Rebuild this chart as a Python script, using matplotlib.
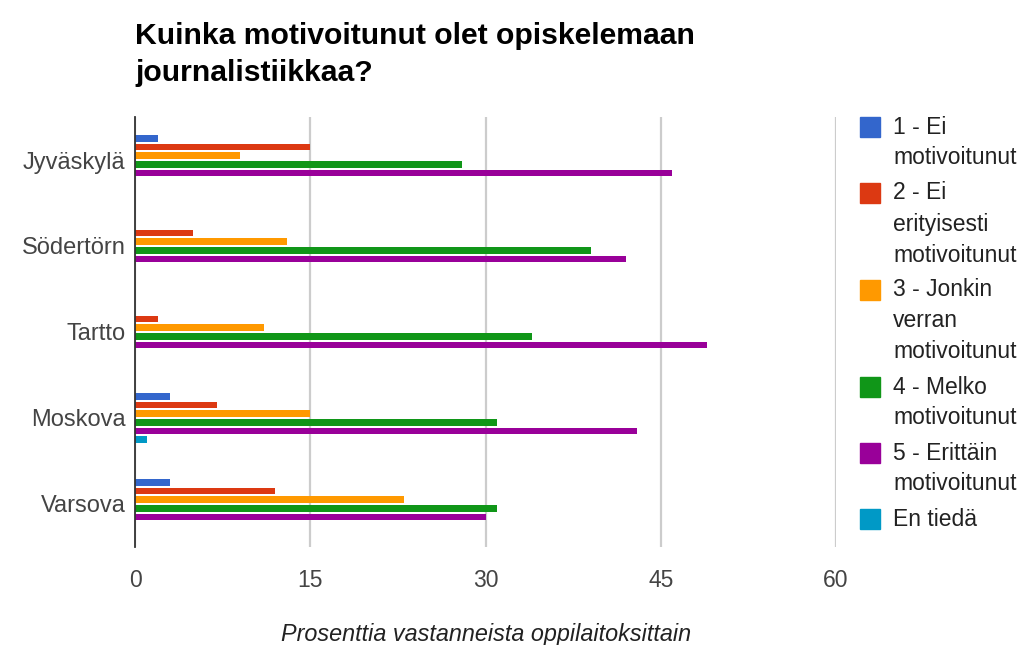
import matplotlib
matplotlib.use("Agg")
import matplotlib.pyplot as plt
import numpy as np

plt.rcParams['font.family'] = ['Liberation Sans', 'DejaVu Sans']

# data (percent of respondents per school)
schools = ["Jyväskylä", "Södertörn", "Tartto", "Moskova", "Varsova"]
series_names = ["1 - Ei\nmotivoitunut",
                "2 - Ei\nerityisesti\nmotivoitunut",
                "3 - Jonkin\nverran\nmotivoitunut",
                "4 - Melko\nmotivoitunut",
                "5 - Erittäin\nmotivoitunut",
                "En tiedä"]
s1 = [2, 0, 0, 3, 3]
s2 = [15, 5, 2, 7, 12]
s3 = [9, 13, 11, 15, 23]
s4 = [28, 39, 34, 31, 31]
s5 = [46, 42, 49, 43, 30]
s6 = [0, 0, 0, 1, 0]
colors = ["#3366cc", "#dc3912", "#ff9900", "#109618", "#990099", "#0099c6"]
xticks = [0, 15, 30, 45, 60]

fig = plt.figure(figsize=(10.24, 6.45), dpi=100)
ax = fig.add_axes([135/1024, 98/645, 701/1024, 430/645])

y = np.arange(len(schools))
pitch = 0.1
for i, vals in enumerate([s1, s2, s3, s4, s5, s6]):
    ax.barh(y + (i - 2.5) * pitch, vals, height=0.078, color=colors[i],
            edgecolor='none', zorder=3)

ax.set_xlim(0, 60)
ax.set_ylim(4.5, -0.5)
ax.set_xticks(xticks)
ax.set_xticklabels([str(t) for t in xticks])
ax.set_yticks(y)
ax.set_yticklabels(schools)
ax.tick_params(axis='both', length=0, labelsize=16.5, labelcolor='#444444')
ax.tick_params(axis='y', labelsize=17, pad=7)
ax.tick_params(axis='x', pad=16)
ax.grid(axis='x', color='#cccccc', linewidth=1.6, zorder=0)
for sp in ['top', 'right', 'bottom']:
    ax.spines[sp].set_visible(False)
ax.spines['left'].set_color('#333333')
ax.spines['left'].set_linewidth(1.3)
ax.spines['left'].set_zorder(4)

# axis title, placed by hand
fig.text(486/1024, 1 - 634/645, "Prosenttia vastanneista oppilaitoksittain",
         fontsize=16.8, style='italic', color='#222222', ha='center', va='center')

fig.text(135/1024, 1 - 22/645, "Kuinka motivoitunut olet opiskelemaan\njournalistiikkaa?",
         fontsize=21.7, fontweight='bold', color='#000000', va='top',
         linespacing=1.4)

# legend drawn by hand so the swatch sits on the first text line
ly = 127
for name, c in zip(series_names, colors):
    fig.patches.append(plt.Rectangle((860/1024, 1 - (ly + 10)/645), 20/1024, 20/645,
                                     transform=fig.transFigure, color=c, figure=fig))
    lines = name.split("\n")
    for k, line in enumerate(lines):
        fig.text(893/1024, 1 - (ly + k * 31)/645, line, fontsize=16.5,
                 color='#222222', va='center')
    ly += len(lines) * 31 + 4

fig.savefig("out.png", dpi=100)
